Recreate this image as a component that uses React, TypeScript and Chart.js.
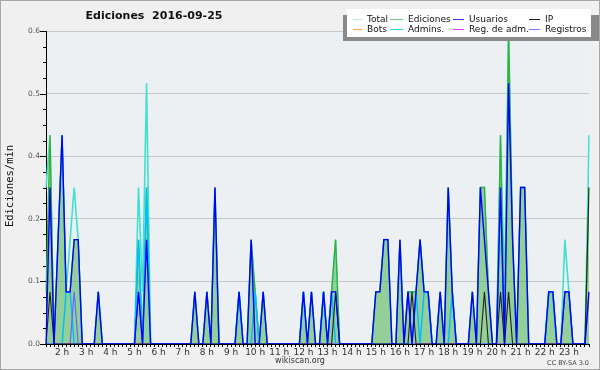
import React, { useEffect, useRef } from "react";
import { Chart, registerables } from "chart.js";

Chart.register(...registerables);

// ---- time buckets (10 minutes each, 01:20 .. 23:50) ----
const START_MINUTE = 80;
const STEP_MINUTES = 10;
const BUCKETS = 136;
const TIMES: string[] = Array.from({ length: BUCKETS }, (_, i) => {
  const m = START_MINUTE + i * STEP_MINUTES;
  return String(Math.floor(m / 60)).padStart(2, "0") + ":" + String(m % 60).padStart(2, "0");
});
const hourLabel = (t: string) => (t.endsWith(":00") ? `${parseInt(t.slice(0, 2), 10)} h` : "");

// ---- series (edits per minute) ----
const TOTAL = [
  0.3, 0.4, 0, 0.2, 0.4, 0.1, 0.2, 0.3, 0.2, 0,
  0, 0, 0, 0.1, 0, 0, 0, 0, 0, 0,
  0, 0, 0, 0.3, 0.1, 0.5, 0, 0, 0, 0,
  0, 0, 0, 0, 0, 0, 0, 0.1, 0, 0,
  0.1, 0, 0.3, 0, 0, 0, 0, 0, 0.1, 0,
  0, 0.2, 0.1, 0, 0.1, 0, 0, 0, 0, 0,
  0, 0, 0, 0, 0.1, 0, 0.1, 0, 0, 0.1,
  0, 0.1, 0.2, 0, 0, 0, 0, 0, 0, 0,
  0, 0, 0.1, 0.1, 0.2, 0.2, 0, 0, 0.2, 0,
  0.1, 0.1, 0.1, 0.2, 0.1, 0.1, 0, 0, 0.1, 0,
  0.3, 0.1, 0, 0, 0, 0, 0.1, 0, 0.3, 0.3,
  0.1, 0, 0, 0.4, 0.1, 0.6, 0.2, 0, 0.3, 0.3,
  0, 0, 0, 0, 0, 0.1, 0.1, 0, 0, 0.2,
  0.1, 0, 0, 0, 0, 0.4,
];
const EDICIONES = [
  0.1, 0.4, 0, 0.2, 0.4, 0.1, 0.1, 0.2, 0.2, 0,
  0, 0, 0, 0.1, 0, 0, 0, 0, 0, 0,
  0, 0, 0, 0.2, 0, 0.3, 0, 0, 0, 0,
  0, 0, 0, 0, 0, 0, 0, 0.1, 0, 0,
  0.1, 0, 0.3, 0, 0, 0, 0, 0, 0.1, 0,
  0, 0.2, 0.1, 0, 0.1, 0, 0, 0, 0, 0,
  0, 0, 0, 0, 0.1, 0, 0.1, 0, 0, 0.1,
  0, 0.1, 0.2, 0, 0, 0, 0, 0, 0, 0,
  0, 0, 0.1, 0.1, 0.2, 0.2, 0, 0, 0.2, 0,
  0.1, 0.1, 0.1, 0.2, 0.1, 0.1, 0, 0, 0.1, 0,
  0.3, 0.1, 0, 0, 0, 0, 0.1, 0, 0.3, 0.3,
  0.1, 0, 0, 0.4, 0, 0.6, 0.2, 0, 0.3, 0.3,
  0, 0, 0, 0, 0, 0.1, 0.1, 0, 0, 0.1,
  0.1, 0, 0, 0, 0, 0.3,
];
const USUARIOS = [
  0, 0.3, 0, 0.2, 0.4, 0.1, 0.1, 0.2, 0.2, 0,
  0, 0, 0, 0.1, 0, 0, 0, 0, 0, 0,
  0, 0, 0, 0.1, 0, 0.2, 0, 0, 0, 0,
  0, 0, 0, 0, 0, 0, 0, 0.1, 0, 0,
  0.1, 0, 0.3, 0, 0, 0, 0, 0, 0.1, 0,
  0, 0.2, 0, 0, 0.1, 0, 0, 0, 0, 0,
  0, 0, 0, 0, 0.1, 0, 0.1, 0, 0, 0.1,
  0, 0.1, 0.1, 0, 0, 0, 0, 0, 0, 0,
  0, 0, 0.1, 0.1, 0.2, 0.2, 0, 0, 0.2, 0,
  0.1, 0, 0.1, 0.2, 0.1, 0.1, 0, 0, 0.1, 0,
  0.3, 0.1, 0, 0, 0, 0, 0.1, 0, 0.3, 0.2,
  0.1, 0, 0, 0.3, 0, 0.5, 0.2, 0, 0.3, 0.3,
  0, 0, 0, 0, 0, 0.1, 0.1, 0, 0, 0.1,
  0.1, 0, 0, 0, 0, 0.1,
];
const IP = [
  0, 0.1, 0, 0, 0, 0, 0, 0, 0, 0,
  0, 0, 0, 0, 0, 0, 0, 0, 0, 0,
  0, 0, 0, 0, 0, 0, 0, 0, 0, 0,
  0, 0, 0, 0, 0, 0, 0, 0, 0, 0,
  0, 0, 0, 0, 0, 0, 0, 0, 0, 0,
  0, 0, 0, 0, 0, 0, 0, 0, 0, 0,
  0, 0, 0, 0, 0, 0, 0, 0, 0, 0,
  0, 0, 0.1, 0, 0, 0, 0, 0, 0, 0,
  0, 0, 0, 0, 0, 0, 0, 0, 0, 0,
  0, 0.1, 0, 0, 0, 0, 0, 0, 0, 0,
  0, 0, 0, 0, 0, 0, 0, 0, 0, 0.1,
  0, 0, 0, 0.1, 0, 0.1, 0, 0, 0, 0,
  0, 0, 0, 0, 0, 0, 0, 0, 0, 0,
  0, 0, 0, 0, 0, 0.3,
];
const ADMINS = [
  0, 0, 0, 0, 0, 0.1, 0.1, 0, 0, 0,
  0, 0, 0, 0, 0, 0, 0, 0, 0, 0,
  0, 0, 0, 0.2, 0, 0.3, 0, 0, 0, 0,
  0, 0, 0, 0, 0, 0, 0, 0, 0, 0,
  0, 0, 0, 0, 0, 0, 0, 0, 0.1, 0,
  0, 0, 0.1, 0, 0, 0, 0, 0, 0, 0,
  0, 0, 0, 0, 0.1, 0, 0, 0, 0, 0.1,
  0, 0.1, 0, 0, 0, 0, 0, 0, 0, 0,
  0, 0, 0, 0, 0, 0, 0, 0, 0, 0,
  0, 0, 0.1, 0, 0.1, 0.1, 0, 0, 0, 0,
  0, 0.1, 0, 0, 0, 0, 0, 0, 0, 0,
  0, 0, 0, 0.3, 0, 0, 0, 0, 0, 0,
  0, 0, 0, 0, 0, 0.1, 0.1, 0, 0, 0,
  0, 0, 0, 0, 0, 0,
];
const REGISTROS = [
  0, 0, 0, 0, 0, 0, 0, 0.1, 0, 0,
  0, 0, 0, 0, 0, 0, 0, 0, 0, 0,
  0, 0, 0, 0.1, 0, 0, 0, 0, 0, 0,
  0, 0, 0, 0, 0, 0, 0, 0, 0, 0,
  0, 0, 0, 0, 0, 0, 0, 0, 0, 0,
  0, 0, 0, 0, 0, 0, 0, 0, 0, 0,
  0, 0, 0, 0, 0, 0, 0, 0, 0, 0,
  0, 0, 0, 0, 0, 0, 0, 0, 0, 0,
  0, 0, 0, 0, 0, 0, 0, 0, 0, 0,
  0.1, 0, 0, 0, 0, 0, 0, 0, 0, 0,
  0, 0, 0, 0, 0, 0, 0, 0, 0, 0,
  0, 0, 0, 0, 0, 0, 0, 0, 0, 0,
  0, 0, 0, 0, 0, 0, 0, 0, 0, 0.1,
  0.1, 0, 0, 0, 0, 0.1,
];
const BOTS: number[] = new Array(BUCKETS).fill(0);
const REG_ADM: number[] = new Array(BUCKETS).fill(0);

const SERIES_LABELS = ["Total", "Ediciones", "Usuarios", "IP", "Bots", "Admins.", "Reg. de adm.", "Registros"];
const SERIES_COLORS = ["#40e0d0", "#35b035", "#0000ff", "#222222", "#ff9900", "#00bfff", "#ff00ff", "#6666ff"];
const LEGEND_COLORS = ["#a8f0e8", "#70d070", "#3838ff", "#202020", "#ffa030", "#30d0f0", "#e040f0", "#7878ff"];

const Y_MAX = 0.6;
const Y_MAJOR_TICKS = [0, 0.12, 0.24, 0.36, 0.48, 0.6];
const Y_MINOR_STEP = 0.03;

const TITLE = "Ediciones  2016-09-25";
const Y_TITLE = "Ediciones/min";
const FOOTER = "wikiscan.org";
const LICENSE = "CC BY-SA 3.0";

const OUTER_BG = "#f0f0f0";
const PLOT_BG = "#ecf0f2";

const decorPlugin = {
  id: "decor",
  beforeDraw(chart: any) {
    const { ctx, chartArea: a, width, height } = chart;
    ctx.save();
    ctx.fillStyle = OUTER_BG;
    ctx.fillRect(0, 0, width, height);
    ctx.strokeStyle = "#a8a8a8";
    ctx.lineWidth = 1;
    ctx.strokeRect(0.5, 0.5, width - 1, height - 1);
    ctx.fillStyle = PLOT_BG;
    ctx.fillRect(a.left, a.top, a.right - a.left, a.bottom - a.top);
    ctx.restore();
  },
  afterDraw(chart: any) {
    const { ctx, chartArea: a } = chart;
    const ys = chart.scales.y;
    ctx.save();
    // y tick marks (major + minor)
    ctx.strokeStyle = "#000";
    ctx.lineWidth = 1;
    const n = Math.round(Y_MAX / Y_MINOR_STEP);
    for (let k = 0; k <= n; k++) {
      const py = Math.round(ys.getPixelForValue(k * Y_MINOR_STEP)) + 0.5;
      const len = k % 4 === 0 ? 6 : 3;
      ctx.beginPath();
      ctx.moveTo(a.left - len, py);
      ctx.lineTo(a.left, py);
      ctx.stroke();
    }
    // title
    ctx.fillStyle = "#111";
    ctx.font = "bold 11px 'DejaVu Sans'";
    ctx.textAlign = "center";
    ctx.textBaseline = "middle";
    ctx.fillText(TITLE, 154, 16);
    // y title
    ctx.save();
    ctx.translate(10, 186);
    ctx.rotate(-Math.PI / 2);
    ctx.font = "10.5px 'DejaVu Sans Mono'";
    ctx.fillStyle = "#111";
    ctx.fillText(Y_TITLE, 0, 0);
    ctx.restore();
    // footer
    ctx.font = "8px 'DejaVu Sans'";
    ctx.fillStyle = "#333";
    ctx.textAlign = "center";
    ctx.fillText(FOOTER, 300, 361);
    ctx.font = "6.5px 'DejaVu Sans'";
    ctx.textAlign = "right";
    ctx.fillStyle = "#444";
    ctx.fillText(LICENSE, 589, 363);
    // legend box
    ctx.fillStyle = "#8a8a8a";
    ctx.fillRect(343, 15, 256, 26);
    ctx.fillStyle = "#ffffff";
    ctx.fillRect(347, 9, 244, 28);
    const lineX = [353, 390, 453, 529];
    const lineW = [9, 13, 11, 11];
    const textX = [367, 408, 469, 545];
    const rowY = [19, 29];
    ctx.font = "9px 'DejaVu Sans'";
    ctx.textAlign = "left";
    ctx.textBaseline = "middle";
    SERIES_LABELS.forEach((lab, i) => {
      const col = i % 4;
      const row = Math.floor(i / 4);
      const y = rowY[row];
      ctx.strokeStyle = LEGEND_COLORS[i];
      ctx.lineWidth = 1;
      ctx.beginPath();
      ctx.moveTo(lineX[col], y + 0.5);
      ctx.lineTo(lineX[col] + lineW[col], y + 0.5);
      ctx.stroke();
      ctx.fillStyle = "#111";
      ctx.fillText(lab, textX[col], y + 0.5);
    });
    ctx.restore();
  },
};

function makeLine(label: string, data: number[], color: string, width: number, order: number, extra: any = {}) {
  return {
    label,
    data,
    borderColor: color,
    backgroundColor: color,
    borderWidth: width,
    pointRadius: 0,
    tension: 0,
    fill: false,
    order,
    ...extra,
  };
}

export default function App() {
  const ref = useRef<HTMLCanvasElement | null>(null);
  useEffect(() => {
    document.body.style.margin = "0";
    if (!ref.current) return;
    const chart = new Chart(ref.current, {
      type: "line",
      data: {
        labels: TIMES,
        datasets: [
          makeLine(SERIES_LABELS[0], TOTAL, SERIES_COLORS[0], 1.6, 7),
          makeLine(SERIES_LABELS[1], EDICIONES, SERIES_COLORS[1], 1.3, 6, {
            fill: "origin",
            backgroundColor: "rgba(50,170,50,0.47)",
          }),
          makeLine(SERIES_LABELS[2], USUARIOS, SERIES_COLORS[2], 1.4, 1),
          makeLine(SERIES_LABELS[3], IP, SERIES_COLORS[3], 1.1, 2),
          makeLine(SERIES_LABELS[4], BOTS, SERIES_COLORS[4], 1, 9),
          makeLine(SERIES_LABELS[5], ADMINS, SERIES_COLORS[5], 1.5, 4),
          makeLine(SERIES_LABELS[6], REG_ADM, SERIES_COLORS[6], 1, 8),
          makeLine(SERIES_LABELS[7], REGISTROS, SERIES_COLORS[7], 1.2, 3),
        ],
      },
      options: {
        responsive: false,
        animation: false,
        devicePixelRatio: 1,
        layout: { padding: { left: 0, right: 11, top: 31, bottom: 0 } },
        plugins: {
          legend: { display: false },
          tooltip: { enabled: false },
          filler: { drawTime: "beforeDatasetsDraw" },
        },
        scales: {
          x: {
            type: "category",
            offset: false,
            afterFit: (s: any) => {
              s.height = 26;
            },
            grid: {
              display: true,
              drawOnChartArea: false,
              drawTicks: true,
              tickLength: 3,
              tickColor: "#000",
            },
            border: { display: true, color: "#000", width: 1 },
            ticks: {
              autoSkip: false,
              maxRotation: 0,
              minRotation: 0,
              padding: 0,
              color: "#333",
              font: { family: "'DejaVu Sans'", size: 9 },
              callback: (_v: any, i: number) => hourLabel(TIMES[i]),
            },
          },
          y: {
            type: "linear",
            min: 0,
            max: Y_MAX,
            afterFit: (s: any) => {
              s.width = 46;
            },
            afterBuildTicks: (s: any) => {
              s.ticks = Y_MAJOR_TICKS.map((v) => ({ value: v }));
            },
            grid: {
              drawTicks: false,
              color: (c: any) => (c.index === 0 ? "rgba(0,0,0,0)" : "#c8c8c8"),
              lineWidth: 1,
            },
            border: { display: true, color: "#000", width: 1 },
            ticks: {
              padding: 6,
              color: "#555",
              font: { family: "'DejaVu Sans'", size: 7.5 },
              callback: (v: any) => Number(v).toFixed(1),
            },
          },
        },
      },
      plugins: [decorPlugin],
    } as any);
    return () => chart.destroy();
  }, []);
  return (
    <div style={{ width: 600, height: 370 }}>
      <canvas ref={ref} width={600} height={370} style={{ display: "block" }} />
    </div>
  );
}
